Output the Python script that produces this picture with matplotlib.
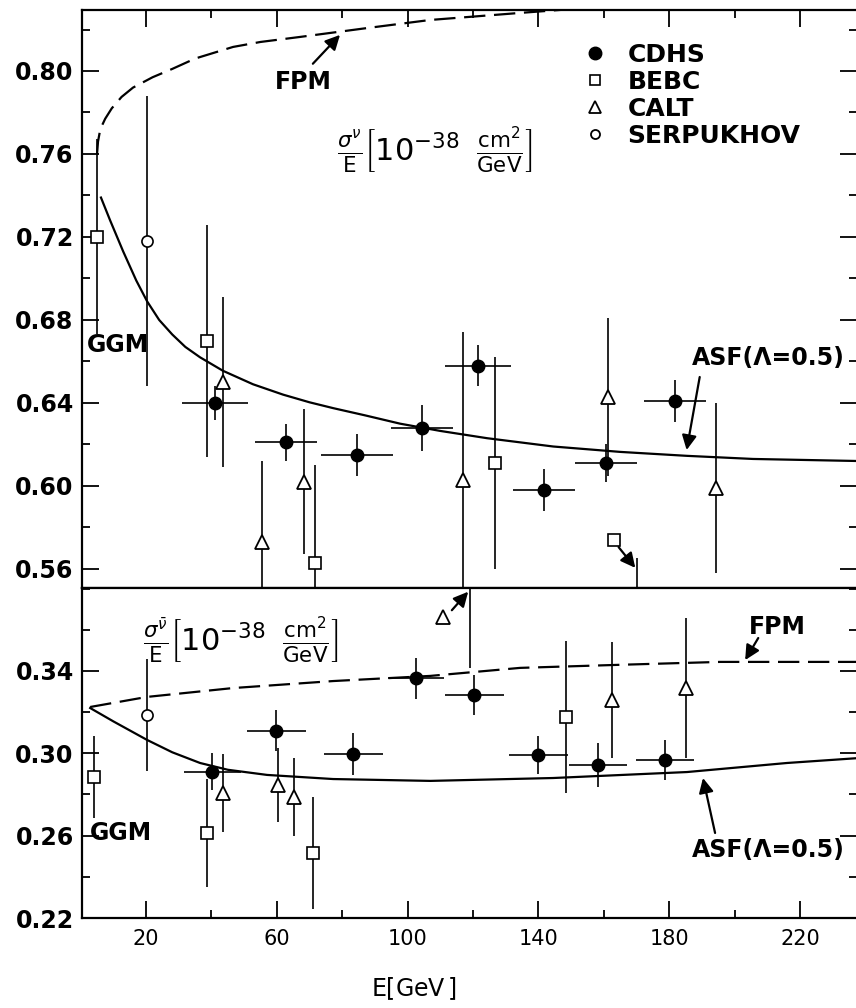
import matplotlib
matplotlib.use('Agg')
import matplotlib.pyplot as plt
from matplotlib.lines import Line2D
from matplotlib.ticker import FormatStrFormatter, MultipleLocator

plt.rcParams['font.family'] = 'DejaVu Sans'
plt.rcParams['mathtext.fontset'] = 'dejavusans'

# ---------------- neutrino (top panel) ----------------
cdhs_nu_E = [41.1, 62.8, 84.5, 104.4, 121.5, 141.7, 160.7, 181.8]
cdhs_nu_y = [0.640, 0.621, 0.615, 0.628, 0.658, 0.598, 0.611, 0.641]
cdhs_nu_dE = [10.0, 9.5, 11.0, 9.5, 10.0, 9.5, 9.5, 9.5]
cdhs_nu_dy = [0.008, 0.009, 0.010, 0.011, 0.010, 0.010, 0.009, 0.010]

bebc_nu_E = [5.0, 38.7, 71.7, 126.7, 163.1]
bebc_nu_y = [0.720, 0.670, 0.563, 0.611, 0.574]
bebc_nu_dy = [0.047, 0.056, 0.047, 0.051, 0.0]

calt_nu_E = [43.5, 55.5, 68.3, 116.9, 161.3, 194.3]
calt_nu_y = [0.650, 0.573, 0.602, 0.603, 0.643, 0.599]
calt_nu_dy = [0.041, 0.039, 0.035, 0.071, 0.038, 0.041]

serp_nu_E = [20.3]
serp_nu_y = [0.718]
serp_nu_dy = [0.070]

# off-scale bebc point: error bar end at the lower edge
offscale_nu_E = [170.2]
offscale_nu_lo = [0.540]
offscale_nu_hi = [0.5655]

asf_nu_E = [6.2, 9.0, 13.0, 17.0, 20.3, 24.0, 28.0, 32.0, 36.5, 43.5, 52.7, 61.9, 70.0,
            77.2, 87.0, 97.7, 110.0, 124.3, 144.5, 165.0, 185.4, 205.6, 238.0]
asf_nu_y = [0.739, 0.728, 0.713, 0.699, 0.689, 0.680, 0.673, 0.667, 0.662, 0.6555,
            0.649, 0.644, 0.6403, 0.6375, 0.634, 0.630, 0.6265, 0.623, 0.619, 0.6164,
            0.6145, 0.613, 0.612]

fpm_nu_E = [5.0, 5.3, 6.0, 7.5, 9.5, 12.5, 16.0, 22.0, 28.0, 35.0, 46.6, 55.0, 67.0,
            87.6, 106.9, 134.4, 160.0, 200.0, 238.0]
fpm_nu_y = [0.760, 0.766, 0.772, 0.777, 0.782, 0.7875, 0.792, 0.797, 0.801, 0.806,
            0.8116, 0.814, 0.8164, 0.8207, 0.8246, 0.828, 0.831, 0.834, 0.836]

# ---------------- antineutrino (bottom panel) ----------------
cdhs_nub_E = [40.2, 59.8, 83.3, 102.6, 120.3, 139.9, 158.2, 178.7]
cdhs_nub_y = [0.291, 0.311, 0.2997, 0.3365, 0.3283, 0.2992, 0.2943, 0.2967]
cdhs_nub_dE = [8.7, 9.0, 9.0, 8.5, 9.0, 9.0, 9.0, 9.0]
cdhs_nub_dy = [0.009, 0.010, 0.010, 0.010, 0.0095, 0.0093, 0.0105, 0.0097]

bebc_nub_E = [4.1, 38.7, 71.1, 148.4]
bebc_nub_y = [0.2885, 0.2613, 0.2516, 0.3176]
bebc_nub_dy = [0.020, 0.026, 0.027, 0.037]

calt_nub_E = [43.5, 60.4, 65.3, 162.5, 185.1, 110.8]
calt_nub_y = [0.2807, 0.2846, 0.2788, 0.3259, 0.3317, 0.3662]
calt_nub_dy = [0.019, 0.018, 0.019, 0.028, 0.034, 0.0]

serp_nub_E = [20.3]
serp_nub_y = [0.3186]
serp_nub_dy = [0.027]

offscale_nub_E = [119.0]
offscale_nub_lo = [0.3415]
offscale_nub_hi = [0.39]

fpm_nub_E = [2.9, 20.3, 46.6, 77.2, 106.9, 134.4, 165.0, 195.5, 238.0]
fpm_nub_y = [0.3225, 0.3274, 0.3317, 0.3351, 0.3376, 0.3415, 0.343, 0.3444, 0.3444]

asf_nub_E = [2.9, 10.0, 20.3, 28.0, 36.5, 45.0, 57.0, 77.2, 106.9, 144.5, 185.4, 216.0, 238.0]
asf_nub_y = [0.322, 0.3155, 0.3065, 0.3005, 0.2953, 0.292, 0.2895, 0.2875, 0.2866, 0.288,
             0.2909, 0.2953, 0.2977]

x_major = [20, 60, 100, 140, 180, 220]

fig = plt.figure(figsize=(8.56, 10.08), dpi=100)
ax1 = fig.add_axes([82 / 856, 1 - 588 / 1008, 775 / 856, 578 / 1008])
ax2 = fig.add_axes([82 / 856, 1 - 918 / 1008, 775 / 856, 330 / 1008])

dash = (0, (9.6, 3.9))
eb = dict(color='k', elinewidth=1.2, capsize=0, linestyle='none')


def draw_points(ax, cd, be, ca, se):
    ax.errorbar(cd[0], cd[1], xerr=cd[2], yerr=cd[3], marker='o', ms=9,
                mfc='k', mec='k', zorder=4, **eb)
    ax.errorbar(be[0], be[1], yerr=be[2], marker='s', ms=8, mfc='white',
                mec='k', mew=1.2, zorder=4, **eb)
    ax.errorbar(ca[0], ca[1], yerr=ca[2], marker='^', ms=10, mfc='white',
                mec='k', mew=1.3, zorder=4, **eb)
    ax.errorbar(se[0], se[1], yerr=se[2], marker='o', ms=8, mfc='white',
                mec='k', mew=1.2, zorder=4, **eb)


# top panel
ax1.plot(asf_nu_E, asf_nu_y, color='k', lw=1.6)
ax1.plot(fpm_nu_E, fpm_nu_y, color='k', lw=1.6, linestyle=dash)
draw_points(ax1, (cdhs_nu_E, cdhs_nu_y, cdhs_nu_dE, cdhs_nu_dy),
            (bebc_nu_E, bebc_nu_y, bebc_nu_dy),
            (calt_nu_E, calt_nu_y, calt_nu_dy),
            (serp_nu_E, serp_nu_y, serp_nu_dy))
ax1.vlines(offscale_nu_E, offscale_nu_lo, offscale_nu_hi, color='k', lw=1.2)

# bottom panel
ax2.plot(asf_nub_E, asf_nub_y, color='k', lw=1.6)
ax2.plot(fpm_nub_E, fpm_nub_y, color='k', lw=1.6, linestyle=dash)
draw_points(ax2, (cdhs_nub_E, cdhs_nub_y, cdhs_nub_dE, cdhs_nub_dy),
            (bebc_nub_E, bebc_nub_y, bebc_nub_dy),
            (calt_nub_E, calt_nub_y, calt_nub_dy),
            (serp_nub_E, serp_nub_y, serp_nub_dy))
ax2.vlines(offscale_nub_E, offscale_nub_lo, offscale_nub_hi, color='k', lw=1.2)

arrow = dict(arrowstyle='-|>', color='k', lw=1.6, mutation_scale=22, shrinkA=0, shrinkB=0)
txt = dict(fontsize=17, color='k', fontweight='bold')

# annotations top
ax1.text(68, 0.7947, 'FPM', ha='center', va='center', **txt)
ax1.annotate('', xy=(79.3, 0.8174), xytext=(71, 0.8035), arrowprops=arrow)
ax1.text(2.0, 0.668, 'GGM', ha='left', va='center', **txt)
ax1.text(187, 0.6617, 'ASF(\u039b=0.5)', ha='left', va='center', **txt)
ax1.annotate('', xy=(185.3, 0.6173), xytext=(189.3, 0.6525), arrowprops=arrow)
ax1.annotate('', xy=(169.6, 0.5605), xytext=(164.5, 0.5705), arrowprops=arrow)
ax1.text(108.4, 0.7614,
         r'$\frac{\sigma^{\nu}}{\mathrm{E}}\left[10^{-38}\;\;\frac{\mathrm{cm}^{2}}{\mathrm{GeV}}\right]$',
         ha='center', va='center', fontsize=22)

# annotations bottom
ax2.text(2.9, 0.2613, 'GGM', ha='left', va='center', **txt)
ax2.text(213, 0.3614, 'FPM', ha='center', va='center', **txt)
ax2.annotate('', xy=(203.2, 0.3453), xytext=(207.2, 0.356), arrowprops=arrow)
ax2.text(187, 0.253, 'ASF(\u039b=0.5)', ha='left', va='center', **txt)
ax2.annotate('', xy=(190.3, 0.288), xytext=(194, 0.2613), arrowprops=arrow)
ax2.annotate('', xy=(118.5, 0.3785), xytext=(113.5, 0.3695), arrowprops=arrow)
ax2.text(49, 0.355,
         r'$\frac{\sigma^{\bar{\nu}}}{\mathrm{E}}\left[10^{-38}\;\;\frac{\mathrm{cm}^{2}}{\mathrm{GeV}}\right]$',
         ha='center', va='center', fontsize=22)

# legend
handles = [
    Line2D([], [], marker='o', ms=9, mfc='k', mec='k', ls='none'),
    Line2D([], [], marker='s', ms=7, mfc='white', mec='k', mew=1.2, ls='none'),
    Line2D([], [], marker='^', ms=8, mfc='white', mec='k', mew=1.3, ls='none'),
    Line2D([], [], marker='o', ms=6.5, mfc='white', mec='k', mew=1.3, ls='none'),
]
labels = ['CDHS', 'BEBC', 'CALT', 'SERPUKHOV']
ax1.legend(handles, labels, loc='upper left', bbox_to_anchor=(0.646, 0.943),
           frameon=False, prop={'size': 18, 'weight': 'bold'}, handlelength=1.0,
           handletextpad=0.8, labelspacing=0.12, borderaxespad=0, borderpad=0)

# axes styling
for ax in (ax1, ax2):
    ax.set_xlim(0.4, 237.4)
    ax.set_xticks(x_major)
    ax.xaxis.set_minor_locator(MultipleLocator(20))
    ax.yaxis.set_major_formatter(FormatStrFormatter('%.2f'))
    ax.tick_params(which='both', direction='in', right=True, width=1.3, colors='k')
    ax.tick_params(which='major', length=12)
    ax.tick_params(which='minor', length=6)
    ax.tick_params(axis='y', labelsize=17, pad=6)
    ax.spines['right'].set_visible(False)
    for s in ax.spines.values():
        s.set_linewidth(1.6)

ax1.set_ylim(0.5508, 0.8294)
ax1.set_yticks([0.56, 0.60, 0.64, 0.68, 0.72, 0.76, 0.80])
ax1.yaxis.set_minor_locator(MultipleLocator(0.02))
ax1.tick_params(axis='x', which='both', top=True, bottom=False, labelbottom=False)

ax2.set_ylim(0.22, 0.3803)
ax2.set_yticks([0.22, 0.26, 0.30, 0.34])
ax2.yaxis.set_minor_locator(MultipleLocator(0.02))
ax2.tick_params(axis='x', which='both', top=False, labelsize=15, pad=8)

for ax in (ax1, ax2):
    for lab in ax.get_yticklabels():
        lab.set_fontweight('bold')

# x label: E [GeV] with tall brackets
fig.text(414 / 856, 1 - 987 / 1008,
         r'$\mathrm{E}\left[\mathrm{GeV}^{\,}_{\,}\right]$',
         ha='center', va='center', fontsize=17)

fig.savefig('out.png', dpi=100, facecolor='white')
